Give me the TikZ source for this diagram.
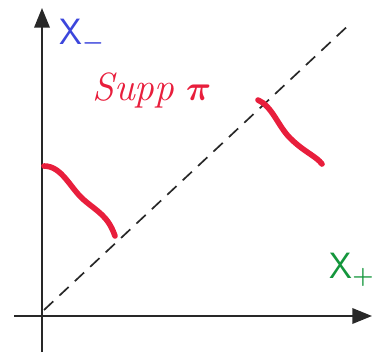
\documentclass[tikz,border=0pt]{standalone}
\usepackage{amsmath, amssymb}
\usepackage{tikz}
\usetikzlibrary{arrows.meta}
\definecolor{suppRed}{RGB}{232, 30, 60}
\definecolor{axisBlue}{RGB}{60, 70, 220}
\definecolor{axisGreen}{RGB}{20, 150, 60}
\definecolor{penGrey}{RGB}{40, 40, 40}

\begin{document}
\begin{tikzpicture}[x=0.025cm, y=-0.025cm,
    axis/.style={penGrey, line width=1.4pt, -{Triangle[length=14pt, width=11pt]}},
    diag/.style={penGrey, line width=1.2pt, dash pattern=on 9pt off 6pt},
    supp/.style={suppRed, line width=4pt, line cap=round}]
        \useasboundingbox (0,0) rectangle (374,355);
        % axes
        \coordinate (yfoot) at (42,352);
        \coordinate (ytip) at (42,8);
        \coordinate (xfoot) at (14,316);
        \coordinate (xtip) at (372,316);
        \draw[axis] (yfoot) -- (ytip);
        \draw[axis] (xfoot) -- (xtip);
        % diagonal
        \coordinate (dstart) at (44,310);
        \coordinate (dend) at (352,22);
        \draw[diag] (dstart) -- (dend);
        % support pieces
        \draw[supp] (44,166) .. controls (62,166) and (70,188) .. (84,200)
            .. controls (98,212) and (108,216) .. (115,236);
        \draw[supp] (258,100) .. controls (272,106) and (278,126) .. (290,138)
            .. controls (304,152) and (316,156) .. (322,164);
        % labels
        \node[axisBlue, font=\sffamily\fontsize{26}{26}\selectfont] (xminus) at (82,36) {X$_{\boldsymbol{-}}$};
        \node[axisGreen, font=\sffamily\fontsize{26}{26}\selectfont] (xplus) at (352,270) {X$_{\boldsymbol{+}}$};
        \node[suppRed, font=\fontsize{28}{28}\selectfont] (supplabel) at (152,90) {\textit{Supp} $\boldsymbol{\pi}$};
      \end{tikzpicture}
\end{document}
